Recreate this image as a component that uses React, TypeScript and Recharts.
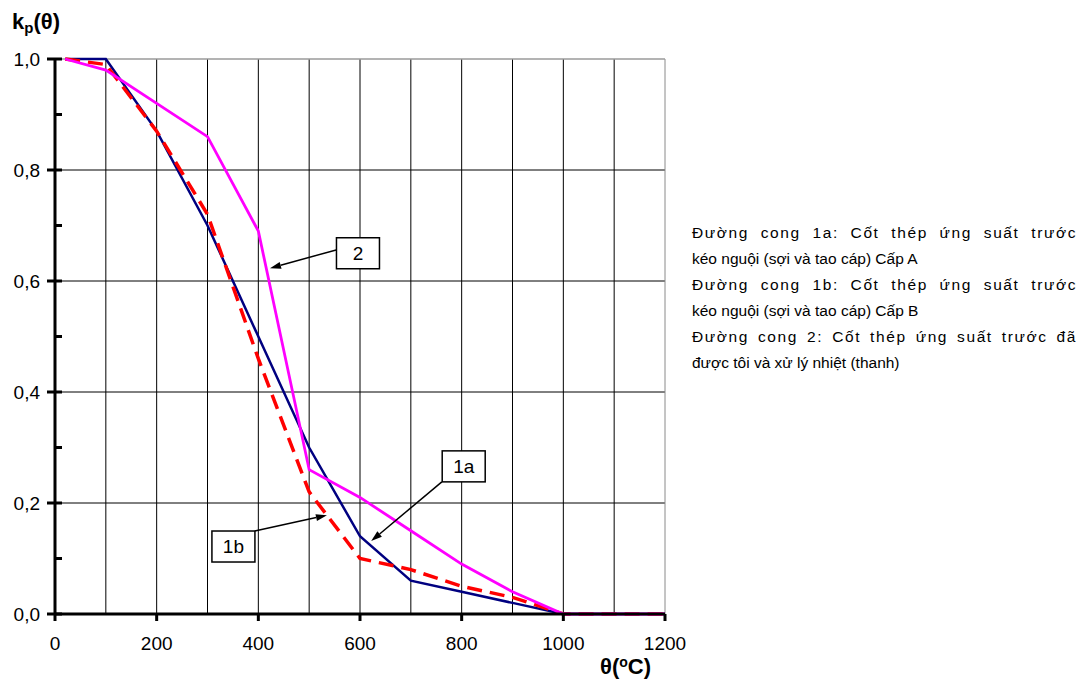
import { CartesianGrid, Line, LineChart, ReferenceDot, ReferenceLine, XAxis, YAxis } from 'recharts'

const temps = [20, 100, 200, 300, 400, 500, 600, 700, 800, 900, 1000, 1100, 1200]
const curve1a = [1.0, 1.0, 0.87, 0.7, 0.5, 0.3, 0.14, 0.06, 0.04, 0.02, 0, 0, 0]
const curve1b = [1.0, 0.99, 0.87, 0.72, 0.46, 0.22, 0.1, 0.08, 0.05, 0.03, 0, 0, 0]
const curve2 = [1.0, 0.98, 0.92, 0.86, 0.69, 0.26, 0.21, 0.15, 0.09, 0.04, 0, 0, 0]

const xTicks = [0, 200, 400, 600, 800, 1000, 1200]
const yTicks = [0, 0.1, 0.2, 0.3, 0.4, 0.5, 0.6, 0.7, 0.8, 0.9, 1.0]
const xGrid = [100, 200, 300, 400, 500, 600, 700, 800, 900, 1000, 1100]
const yGrid = [0.2, 0.4, 0.6, 0.8]

// callouts: label, box centre, arrow start, arrow tip (data units)
const callouts = [
  { label: '2', box: { x: 596, y: 0.65 }, from: { x: 553, y: 0.656 }, to: { x: 423, y: 0.623 } },
  { label: '1a', box: { x: 804, y: 0.266 }, from: { x: 761, y: 0.238 }, to: { x: 622, y: 0.1315 } },
  { label: '1b', box: { x: 351, y: 0.1216 }, from: { x: 393, y: 0.1495 }, to: { x: 535, y: 0.178 } },
]

const legendLines = [
  { text: 'Đường cong 1a: Cốt thép ứng suất trước', justify: true },
  { text: 'kéo nguội (sợi và tao cáp) Cấp A', justify: false },
  { text: 'Đường cong 1b: Cốt thép ứng suất trước', justify: true },
  { text: 'kéo nguội (sợi và tao cáp) Cấp B', justify: false },
  { text: 'Đường cong 2: Cốt thép ứng suất trước đã', justify: true },
  { text: 'được tôi và xử lý nhiệt (thanh)', justify: false },
]

const data = temps.map((t, i) => ({ t, a: curve1a[i], b: curve1b[i], c: curve2[i] }))

const FONT = '"Liberation Sans", Arial, sans-serif'

function YTick(props: any) {
  const { x, y, payload } = props
  const axisX = x + 15
  const v: number = payload.value
  const major = Math.round(v * 10) % 2 === 0
  return (
    <g>
      {major ? (
        <line x1={axisX - 8} x2={axisX + 7} y1={y} y2={y} stroke="#000" strokeWidth={3} />
      ) : (
        <line x1={axisX} x2={axisX + 7} y1={y} y2={y} stroke="#000" strokeWidth={3} />
      )}
      {major && (
        <text x={x} y={y} dy="0.36em" textAnchor="end" fontSize={19} fontFamily={FONT} fill="#000">
          {v.toFixed(1).replace('.', ',')}
        </text>
      )}
    </g>
  )
}

function Arrow(props: any) {
  const { x1, y1, x2, y2 } = props
  const dx = x2 - x1
  const dy = y2 - y1
  const len = Math.sqrt(dx * dx + dy * dy)
  const ux = dx / len
  const uy = dy / len
  const hl = 11
  const hw = 3.5
  const bx = x2 - ux * hl
  const by = y2 - uy * hl
  return (
    <g>
      <line x1={x1} y1={y1} x2={bx} y2={by} stroke="#000" strokeWidth={1.5} />
      <polygon
        points={`${x2},${y2} ${bx - uy * hw},${by + ux * hw} ${bx + uy * hw},${by - ux * hw}`}
        fill="#000"
      />
    </g>
  )
}

function boxShape(label: string) {
  return (props: any) => {
    const { cx, cy } = props
    return (
      <g>
        <rect x={cx - 21.5} y={cy - 15.5} width={43} height={31} fill="#fff" stroke="#000" strokeWidth={1.5} />
        <text x={cx} y={cy} dy="0.36em" textAnchor="middle" fontSize={19} fontFamily={FONT} fill="#000">
          {label}
        </text>
      </g>
    )
  }
}

function App() {
  return (
    <div style={{ position: 'absolute', left: 0, top: 0, width: 1081, height: 685, background: '#fff', fontFamily: FONT }}>
      <LineChart width={1081} height={685} data={data} margin={{ top: 59, right: 416, bottom: 31, left: 0 }}>
        <CartesianGrid stroke="#000" strokeWidth={1} verticalValues={xGrid} horizontalValues={yGrid} />
        <ReferenceLine x={1200} stroke="#8a8a8a" strokeWidth={1} />
        <ReferenceLine y={1.0} stroke="#9a9a9a" strokeWidth={1.5} />
        <XAxis
          dataKey="t"
          type="number"
          domain={[0, 1200]}
          ticks={xTicks}
          height={40}
          axisLine={{ stroke: '#000', strokeWidth: 3 }}
          tickLine={{ stroke: '#000', strokeWidth: 3 }}
          tickSize={7}
          tickMargin={16}
          tick={{ fill: '#000', fontSize: 19, fontFamily: FONT }}
        />
        <YAxis
          type="number"
          domain={[0, 1]}
          ticks={yTicks}
          width={55}
          interval={0}
          axisLine={{ stroke: '#000', strokeWidth: 3 }}
          tickLine={false}
          tickSize={0}
          tickMargin={15}
          tick={YTick}
        />
        <Line dataKey="a" type="linear" stroke="#000080" strokeWidth={2.5} dot={false} isAnimationActive={false} />
        <Line
          dataKey="b"
          type="linear"
          stroke="#ff0000"
          strokeWidth={3.5}
          strokeDasharray="15 8"
          dot={false}
          isAnimationActive={false}
        />
        <Line dataKey="c" type="linear" stroke="#ff00ff" strokeWidth={2.8} dot={false} isAnimationActive={false} />
        {callouts.map((c) => (
          <ReferenceLine key={`a-${c.label}`} segment={[c.from, c.to]} shape={Arrow} />
        ))}
        {callouts.map((c) => (
          <ReferenceDot key={`b-${c.label}`} x={c.box.x} y={c.box.y} r={1} shape={boxShape(c.label)} />
        ))}
      </LineChart>

      <div style={{ position: 'absolute', left: 12, top: 9, fontSize: 22, fontWeight: 'bold', lineHeight: '26px' }}>
        k<sub style={{ fontSize: 15, verticalAlign: '-4px' }}>p</sub>(θ)
      </div>
      <div style={{ position: 'absolute', left: 600, top: 655, fontSize: 22, fontWeight: 'bold', lineHeight: '24px' }}>
        θ(<sup style={{ fontSize: 14, verticalAlign: '7px', lineHeight: '10px' }}>o</sup>C)
      </div>

      <div style={{ position: 'absolute', left: 692, top: 220, width: 385, fontSize: 15.5, lineHeight: '26px', color: '#000' }}>
        {legendLines.map((l) => (
          <div
            key={l.text}
            style={{
              textAlign: l.justify ? 'justify' : 'left',
              textAlignLast: l.justify ? 'justify' : 'left',
              letterSpacing: l.justify ? '1.6px' : 'normal',
              whiteSpace: 'nowrap',
            }}
          >
            {l.text}
          </div>
        ))}
      </div>
    </div>
  )
}

export default App
